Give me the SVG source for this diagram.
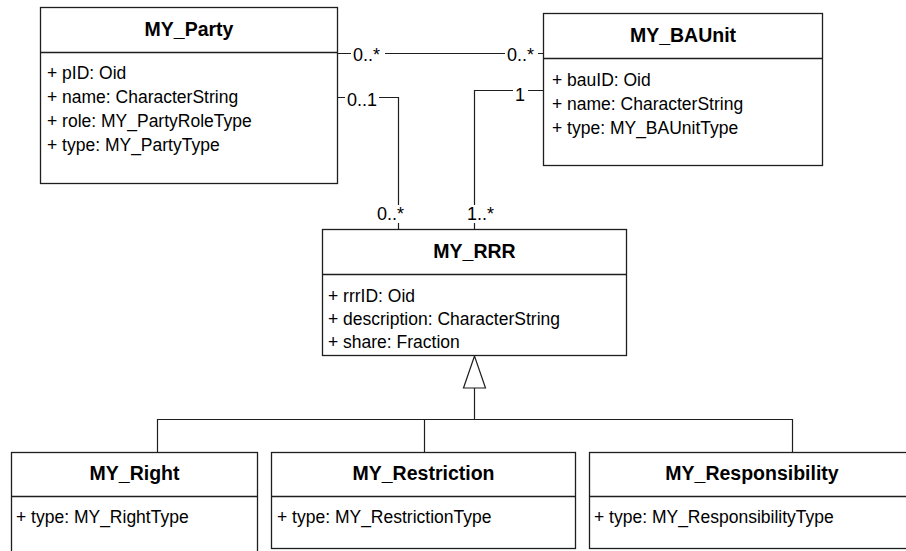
<svg xmlns="http://www.w3.org/2000/svg" width="906" height="551" viewBox="0 0 906 551">
<style>
.box{fill:#fff;stroke:#1e1e1e;stroke-width:1.3}
.div{stroke:#1e1e1e;stroke-width:1.3}
.title{font-family:"Liberation Sans",Arial,sans-serif;font-weight:bold;font-size:19.5px;text-anchor:middle;fill:#000}
.attr{font-family:"Liberation Sans",Arial,sans-serif;font-size:17.5px;fill:#000}
.lbl{font-family:"Liberation Sans",Arial,sans-serif;font-size:18px;fill:#000}
.con{fill:none;stroke:#1e1e1e;stroke-width:1.2}
.bg{fill:#fff}
</style>
<g id="connectors">
<path class="con" d="M338 53.5H543"/>
<path class="con" d="M338 97.5H398.5V229"/>
<path class="con" d="M543 90.5H474.5V229"/>
<path class="con" d="M474.5 388V419.5M157.5 452V419.5H792.5V452M424.5 419.5V452"/>
<polygon points="474.5,356 463.5,388 485.5,388" fill="#fff" stroke="#1e1e1e" stroke-width="1.2"/>
<rect class="bg" x="351" y="45" width="34" height="17"/>
<text class="lbl" x="353" y="61">0..*</text>
<rect class="bg" x="505" y="45" width="33" height="17"/>
<text class="lbl" x="507" y="61">0..*</text>
<rect class="bg" x="345" y="89" width="34" height="17"/>
<text class="lbl" x="347" y="106">0..1</text>
<rect class="bg" x="513" y="85" width="15" height="17"/>
<text class="lbl" x="515" y="101">1</text>
<rect class="bg" x="375" y="205" width="34" height="18"/>
<text class="lbl" x="377" y="220">0..*</text>
<rect class="bg" x="465" y="205" width="34" height="18"/>
<text class="lbl" x="467" y="220">1..*</text>
</g>
<g id="MY_Party">
<rect class="box" x="40.5" y="7.5" width="297" height="176"/>
<path class="div" d="M40.5 52.5H337.5"/>
<text class="title" x="189" y="36">MY_Party</text>
<text class="attr" x="47" y="79">+ pID: Oid</text>
<text class="attr" x="47" y="103">+ name: CharacterString</text>
<text class="attr" x="47" y="127">+ role: MY_PartyRoleType</text>
<text class="attr" x="47" y="151">+ type: MY_PartyType</text>
</g>
<g id="MY_BAUnit">
<rect class="box" x="543.5" y="13.5" width="279" height="152"/>
<path class="div" d="M543.5 58.5H822.5"/>
<text class="title" x="683" y="42">MY_BAUnit</text>
<text class="attr" x="552" y="86">+ bauID: Oid</text>
<text class="attr" x="552" y="110">+ name: CharacterString</text>
<text class="attr" x="552" y="134">+ type: MY_BAUnitType</text>
</g>
<g id="MY_RRR">
<rect class="box" x="322.5" y="229.5" width="304" height="126"/>
<path class="div" d="M322.5 274.5H626.5"/>
<text class="title" x="474.5" y="258">MY_RRR</text>
<text class="attr" x="328" y="302">+ rrrID: Oid</text>
<text class="attr" x="328" y="325">+ description: CharacterString</text>
<text class="attr" x="328" y="348">+ share: Fraction</text>
</g>
<g id="MY_Right">
<rect class="box" x="11.5" y="452.5" width="246" height="110"/>
<path class="div" d="M11.5 496.5H257.5"/>
<text class="title" x="134.5" y="480">MY_Right</text>
<text class="attr" x="16" y="523">+ type: MY_RightType</text>
</g>
<g id="MY_Restriction">
<rect class="box" x="271.5" y="452.5" width="304" height="96"/>
<path class="div" d="M271.5 496.5H575.5"/>
<text class="title" x="423.5" y="480">MY_Restriction</text>
<text class="attr" x="277" y="523">+ type: MY_RestrictionType</text>
</g>
<g id="MY_Responsibility">
<rect class="box" x="589.5" y="452.5" width="330" height="96"/>
<path class="div" d="M589.5 496.5H919.5"/>
<text class="title" x="752" y="480">MY_Responsibility</text>
<text class="attr" x="594" y="523">+ type: MY_ResponsibilityType</text>
</g>
</svg>
